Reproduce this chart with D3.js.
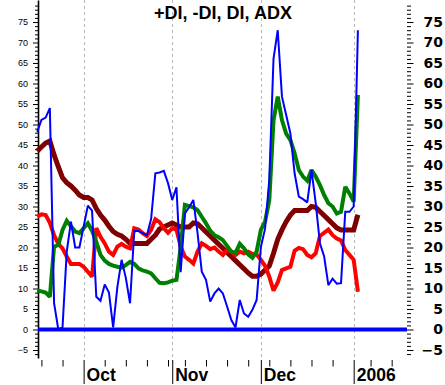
<!DOCTYPE html>
<html><head><meta charset="utf-8">
<script src="https://cdn.jsdelivr.net/npm/d3@7"></script>
<style>html,body{margin:0;padding:0;background:#fff;overflow:hidden}</style>
</head><body>
<svg id="c" width="445" height="385"></svg>
<script>
// ---- data (one value per trading day, Sep 16 2005 .. Jan 4 2006) ----
const adx = [43.5,44.5,45.5,46,42.6,39.7,37,35.8,35,34,
 32.8,32.2,32.2,31.6,29.5,27.9,26.7,25.2,23.9,23.2,
 22.8,22,21,21,21,21,21,22,23,24.5,
 25,25.5,26,25.5,25,25,25,26,25.8,24.8,
 23.8,22.8,21.8,20.8,19.8,18.8,17.8,16.8,15.8,14.8,
 13.8,13,13,13.5,14.5,15.5,18.6,22,24.3,26.3,
 27.9,29,29,29,29,30,29.8,28.8,27.8,26.8,
 25.8,24.8,24.3,24.3,24.3,24.3,28];
const plusDI = [9.5,9.3,9,8,20.2,20.6,24.3,26.5,25.2,23.9,
 23.5,24.7,25.9,24.1,21.4,18.2,16.8,16,15.6,15.3,
 15.1,15.7,16.5,16,14.9,14.4,14.1,13.7,12.5,11.4,
 11.3,11.5,11.9,12.1,20,30.4,30.1,29.8,29.1,27.5,
 25.9,24.1,23,22.5,21.8,20.4,19,18.7,20.9,19.8,
 18.3,17.5,19,24.3,26.3,31.5,51,56.8,51.1,47.8,
 46.2,43,38.9,37.3,36.3,38.9,37.3,35.2,32.8,30.8,
 30,28.3,28.7,34.8,33.2,31.2,57.2];
const minusDI = [27.5,28.1,27.9,26,23,20.9,19.8,17.8,16,16,
 16,15.3,14.1,12.9,24.7,22.6,21,19,18.2,20.2,
 20.9,20.2,19.8,24.7,24.4,23.5,22.8,24.3,26.9,26.2,
 24.7,23.6,24.7,24.4,20.2,17.8,17,16.1,19,21,
 20.4,19.6,20,19,18.2,19.4,19,18.2,19,18.6,
 19,18.4,18.3,17,15.5,12.9,9.5,11.5,14.5,14.9,
 15.3,19.2,19.9,19.6,18.2,17.6,18.6,22.8,23.6,24.4,
 23,22.2,21.7,19.4,18.2,17,9.2];
const dx = [48.2,51.1,51.7,54,6.4,0,0.5,19,26.3,20,
 20,25.1,30.2,29,8,7,11,9,0.5,10.4,
 17,12.6,6.4,24,24,23.5,23,27,38.1,38.3,
 38.7,35.7,31.6,34.7,14,28.3,29.8,31.6,23.5,14.1,
 12.1,6.8,8.8,10,8.8,5.6,2.3,0.5,7.2,3.9,
 3.1,4.8,7.2,20.1,24.6,36.5,66,73,56.8,52.3,
 47.8,38.1,32.4,31.8,31,38.9,30.8,21,17.8,10.8,
 12.4,11.2,11.3,28.7,28.7,30,73];
const weekTicks = [1,6,16,21,26,31,35,40,45,50,55,60,65,70,79,84];
const monthTicks = [11,32,53,75];
const monthLabels = ["Oct","Nov","Dec","2006"];
const yMajor = d3.range(-5, 80, 5);
const yMinor = d3.range(-6, 81).filter(v => v % 5 !== 0);
const title = "+DI, -DI, DI, ADX";

const svg = d3.select("#c");
svg.append("rect").attr("width",445).attr("height",385).attr("fill","#fff");
const x = d3.scaleLinear().domain([0, 87.8]).range([37.2, 407.7]);
const y = d3.scaleLinear().domain([-6.95, 80.37]).range([358, 0]);
const FONT = "'Liberation Sans', Arial, sans-serif";

// month grid lines
svg.append("g").selectAll("line").data(monthTicks).join("line")
  .attr("x1", d => Math.round(x(d)) + 0.5).attr("x2", d => Math.round(x(d)) + 0.5)
  .attr("y1", 0).attr("y2", 360)
  .attr("stroke", "#b8b8b8").attr("stroke-width", 1).attr("stroke-dasharray", "3,3");

// left axis
const gl = svg.append("g").attr("transform", "translate(38,0)");
gl.call(d3.axisLeft(y).tickValues(yMajor).tickSize(5).tickSizeOuter(0).tickPadding(5));
gl.select(".domain").attr("stroke-width", 1.6);
gl.selectAll("text").attr("font-family", FONT).attr("font-size", 9).attr("fill", "#000");
const glm = svg.append("g").attr("transform", "translate(38,0)");
glm.call(d3.axisLeft(y).tickValues(yMinor).tickSize(3).tickFormat(""));
glm.select(".domain").remove();

// right axis
const gr = svg.append("g").attr("transform", "translate(407,0)");
gr.call(d3.axisRight(y).tickValues(yMajor).tickSize(6.5).tickSizeOuter(0));
gr.select(".domain").remove();
gr.selectAll("text").attr("font-family", "'DejaVu Sans', Verdana, sans-serif")
  .attr("font-weight", "bold").attr("font-size", 14).attr("fill", "#000")
  .attr("text-anchor", "end").attr("x", 36);
const grm = svg.append("g").attr("transform", "translate(407,0)");
grm.call(d3.axisRight(y).tickValues(yMinor).tickSize(4).tickFormat(""));
grm.select(".domain").remove();

// bottom axis: weekly ticks
const gb = svg.append("g").attr("transform", "translate(0,360)");
gb.call(d3.axisBottom(x).tickValues(weekTicks).tickSize(6.5).tickFormat(""));
gb.select(".domain").remove();
// month ticks + labels
const gm = svg.append("g").attr("transform", "translate(0,360)");
gm.call(d3.axisBottom(x).tickValues(monthTicks).tickSize(24)
  .tickFormat((d, i) => monthLabels[i]));
gm.select(".domain").remove();
gm.selectAll("text").attr("font-family", FONT).attr("font-weight", "bold")
  .attr("font-size", 17.5).attr("fill", "#000")
  .attr("text-anchor", "start").attr("x", 2.5).attr("y", 21).attr("dy", 0);

// zero line
svg.append("line").attr("x1", 38).attr("x2", 407).attr("y1", y(0)).attr("y2", y(0))
  .attr("stroke", "#0000ff").attr("stroke-width", 4);

// series
const line = d3.line().x((d, i) => x(i)).y(d => y(d));
const series = [
  {data: adx, color: "#7f0000", w: 5},
  {data: minusDI, color: "#ff0000", w: 4},
  {data: plusDI, color: "#008000", w: 4},
  {data: dx, color: "#0000ff", w: 2}
];
svg.append("g").selectAll("path").data(series).join("path")
  .attr("d", s => line(s.data)).attr("fill", "none")
  .attr("stroke", s => s.color).attr("stroke-width", s => s.w)
  .attr("stroke-linejoin", "miter").attr("stroke-miterlimit", 2);

// title
svg.append("text").attr("x", 223).attr("y", 19).attr("text-anchor", "middle")
  .attr("font-family", FONT).attr("font-weight", "bold").attr("font-size", 18)
  .text(title);
</script>
</body></html>
